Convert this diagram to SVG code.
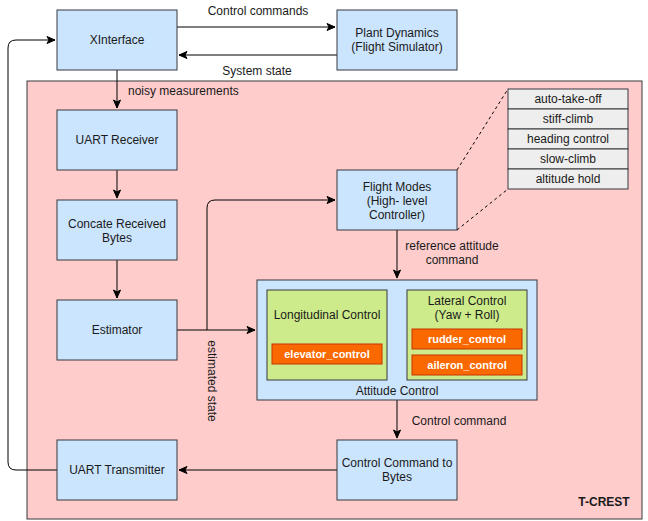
<svg xmlns="http://www.w3.org/2000/svg" width="648" height="521" viewBox="0 0 648 521">
<style>
text{font-family:"Liberation Sans",Arial,sans-serif;font-size:12px;fill:#1a1a1a;text-anchor:middle}
.lbl{font-size:12px}
.blue{fill:#cce5ff;stroke:#36393d;stroke-width:1}
.green{fill:#cdeb8b;stroke:#36393d;stroke-width:1}
.orange{fill:#fa6800;stroke:#c73500;stroke-width:1}
.ow{fill:#ffffff;font-weight:bold;font-size:11px}
.gray{fill:#eeeeee;stroke:#36393d;stroke-width:1}
.edge{fill:none;stroke:#000;stroke-width:1}
.dash{fill:none;stroke:#000;stroke-width:1;stroke-dasharray:3 3}
</style>
<defs>
<marker id="arr" markerWidth="10" markerHeight="10" refX="9" refY="5" orient="auto" markerUnits="userSpaceOnUse">
<path d="M1,1.5 L9,5 L1,8.5 L3,5 Z" fill="#000" stroke="#000" stroke-width="1"/>
</marker>
</defs>
<rect width="648" height="521" fill="#ffffff"/>
<g id="tcrest">
<rect x="27" y="81" width="615" height="438" fill="#ffcccc" stroke="#36393d"/>
<text x="604" y="506" style="font-weight:bold">T-CREST</text>
</g>
<g id="connectors">
<path class="edge" d="M177,27 H335" marker-end="url(#arr)"/>
<text class="lbl" x="258" y="15">Control commands</text>
<path class="edge" d="M337,55 H179" marker-end="url(#arr)"/>
<text class="lbl" x="257" y="75">System state</text>
<path class="edge" d="M117,70 V108" marker-end="url(#arr)"/>
<text class="lbl" x="128" y="95" style="text-anchor:start">noisy measurements</text>
<path class="edge" d="M117,170 V198" marker-end="url(#arr)"/>
<path class="edge" d="M117,260 V298" marker-end="url(#arr)"/>
<path class="edge" d="M177,330 H255" marker-end="url(#arr)"/>
<path class="edge" d="M207,330 V208 Q207,200 215,200 H335" marker-end="url(#arr)"/>
<text class="lbl" transform="translate(208,381) rotate(90)">estimated state</text>
<path class="edge" d="M397,230 V278" marker-end="url(#arr)"/>
<text class="lbl" x="452" y="250">reference attitude</text>
<text class="lbl" x="452" y="264">command</text>
<path class="edge" d="M397,400 V438" marker-end="url(#arr)"/>
<text class="lbl" x="459" y="425">Control command</text>
<path class="edge" d="M337,470 H179" marker-end="url(#arr)"/>
<path class="edge" d="M57,470 H16 Q8,470 8,462 V48 Q8,40 16,40 H55" marker-end="url(#arr)"/>
<path class="dash" d="M457,170 L508,89"/>
<path class="dash" d="M457,230 L508,189"/>
</g>
<g id="xinterface">
<rect class="blue" x="57" y="10" width="120" height="60"/>
<text x="117" y="44">XInterface</text>
</g>
<g id="plant">
<rect class="blue" x="337" y="10" width="120" height="60"/>
<text x="397" y="37">Plant Dynamics</text>
<text x="397" y="51">(Flight Simulator)</text>
</g>
<g id="uart-receiver">
<rect class="blue" x="57" y="110" width="120" height="60"/>
<text x="117" y="144">UART Receiver</text>
</g>
<g id="concate">
<rect class="blue" x="57" y="200" width="120" height="60"/>
<text x="117" y="228">Concate Received</text>
<text x="117" y="242">Bytes</text>
</g>
<g id="estimator">
<rect class="blue" x="57" y="300" width="120" height="60"/>
<text x="117" y="334">Estimator</text>
</g>
<g id="flight-modes">
<rect class="blue" x="337" y="170" width="120" height="60"/>
<text x="397" y="191">Flight Modes</text>
<text x="397" y="205">(High- level</text>
<text x="397" y="219">Controller)</text>
</g>
<g id="mode-list">
<rect class="gray" x="508" y="89" width="120" height="20"/>
<text x="568" y="103">auto-take-off</text>
<rect class="gray" x="508" y="109" width="120" height="20"/>
<text x="568" y="123">stiff-climb</text>
<rect class="gray" x="508" y="129" width="120" height="20"/>
<text x="568" y="143">heading control</text>
<rect class="gray" x="508" y="149" width="120" height="20"/>
<text x="568" y="163">slow-climb</text>
<rect class="gray" x="508" y="169" width="120" height="20"/>
<text x="568" y="183">altitude hold</text>
</g>
<g id="attitude-control">
<rect class="blue" x="257" y="280" width="280" height="120"/>
<text x="397" y="395">Attitude Control</text>
</g>
<g id="longitudinal">
<rect class="green" x="267" y="290" width="120" height="90"/>
<text x="327" y="319">Longitudinal Control</text>
</g>
<g id="elevator">
<rect class="orange" x="272" y="344" width="110" height="20"/>
<text class="ow" x="327" y="358">elevator_control</text>
</g>
<g id="lateral">
<rect class="green" x="407" y="290" width="120" height="90"/>
<text x="467" y="305">Lateral Control</text>
<text x="467" y="319">(Yaw + Roll)</text>
</g>
<g id="rudder">
<rect class="orange" x="412" y="329" width="110" height="20"/>
<text class="ow" x="467" y="343">rudder_control</text>
</g>
<g id="aileron">
<rect class="orange" x="412" y="355" width="110" height="20"/>
<text class="ow" x="467" y="369">aileron_control</text>
</g>
<g id="cc-bytes">
<rect class="blue" x="337" y="440" width="120" height="60"/>
<text x="397" y="467">Control Command to</text>
<text x="397" y="481">Bytes</text>
</g>
<g id="uart-transmitter">
<rect class="blue" x="57" y="440" width="120" height="60"/>
<text x="117" y="474">UART Transmitter</text>
</g>
</svg>
